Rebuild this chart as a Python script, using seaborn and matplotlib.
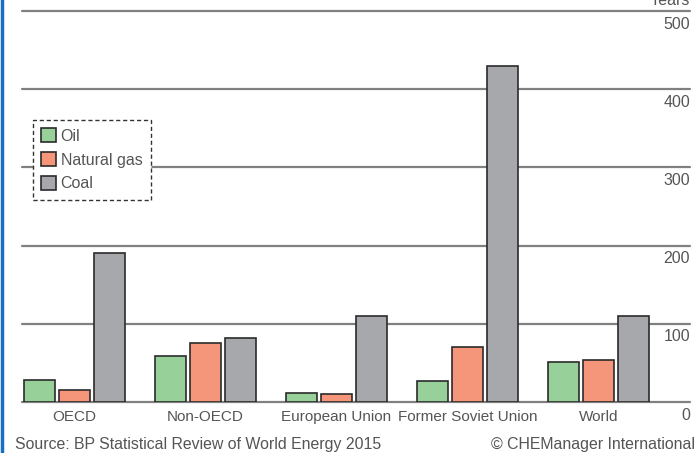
import pandas as pd
import matplotlib.pyplot as plt
import seaborn as sns
from matplotlib.lines import Line2D

# data (reserves-to-production ratio, years)
regions = ["OECD", "Non-OECD", "European Union", "Former Soviet Union", "World"]
fuels = ["Oil", "Natural gas", "Coal"]
oil = [28.5, 59, 11.5, 27, 51]
gas = [15, 75, 10, 70.5, 54]
coal = [191, 82, 110, 430, 110]
yticks = [0, 100, 200, 300, 400, 500]

colors = {"Oil": "#98d09a", "Natural gas": "#f5967a", "Coal": "#a7a8ac"}
TEXT = "#555555"

df = pd.DataFrame({
    "region": regions * 3,
    "fuel": ["Oil"] * 5 + ["Natural gas"] * 5 + ["Coal"] * 5,
    "years": oil + gas + coal,
})

sns.set_style("white")
plt.rcParams["font.family"] = ["Liberation Sans", "DejaVu Sans"]

fig = plt.figure(figsize=(6.97, 4.53), dpi=100)
ax = fig.add_axes([22 / 697, 1 - 402 / 453, 668 / 697, 391 / 453])

sns.barplot(data=df, x="region", y="years", hue="fuel", order=regions,
            hue_order=fuels, palette=colors, edgecolor="#2b2b2b",
            linewidth=1.2, width=0.8, gap=0.1, saturation=1, ax=ax, zorder=3)

ax.set_xlim(-0.4, 4.7)
ax.set_ylim(0, 500)
for s in ax.spines.values():
    s.set_visible(False)
ax.set_yticks([])
ax.set_xlabel("")
ax.set_ylabel("")
ax.tick_params(axis="x", length=0, pad=6, labelsize=11, labelcolor=TEXT)

# gridlines with value labels sitting under each line on the right
for v in yticks:
    ax.axhline(v, color="#808080", lw=1.6, zorder=1, clip_on=False)
    ax.annotate(str(v), xy=(1.0, v), xycoords=("axes fraction", "data"),
                xytext=(0, -4), textcoords="offset points", ha="right",
                va="top", fontsize=11.5, color=TEXT)
ax.annotate("Years", xy=(1.0, 500), xycoords=("axes fraction", "data"),
            xytext=(0, 2), textcoords="offset points", ha="right",
            va="bottom", fontsize=11.5, color=TEXT)

leg = ax.legend(loc="upper left", bbox_to_anchor=(0.016, 0.722),
                borderaxespad=0, frameon=True, fancybox=False, fontsize=11.5,
                handlelength=0.9, handleheight=0.9, handletextpad=0.3,
                labelspacing=0.55, borderpad=0.55, labelcolor=TEXT)
frame = leg.get_frame()
frame.set_linestyle((0, (3, 2)))
frame.set_edgecolor("#333333")
frame.set_linewidth(1.0)
frame.set_facecolor("white")
frame.set_alpha(1)

fig.text(15 / 697, 1 - 445 / 453, "Source: BP Statistical Review of World Energy 2015",
         ha="left", va="center", fontsize=11.4, color=TEXT)
fig.text(695 / 697, 1 - 445 / 453, "\u00a9 CHEManager International",
         ha="right", va="center", fontsize=11.4, color=TEXT)

# blue frame edge on the left
fig.add_artist(Line2D([1.5 / 697, 1.5 / 697], [0, 1], color="#1a6fc4", lw=2.5,
                      transform=fig.transFigure))

fig.savefig("out.png", dpi=100)
